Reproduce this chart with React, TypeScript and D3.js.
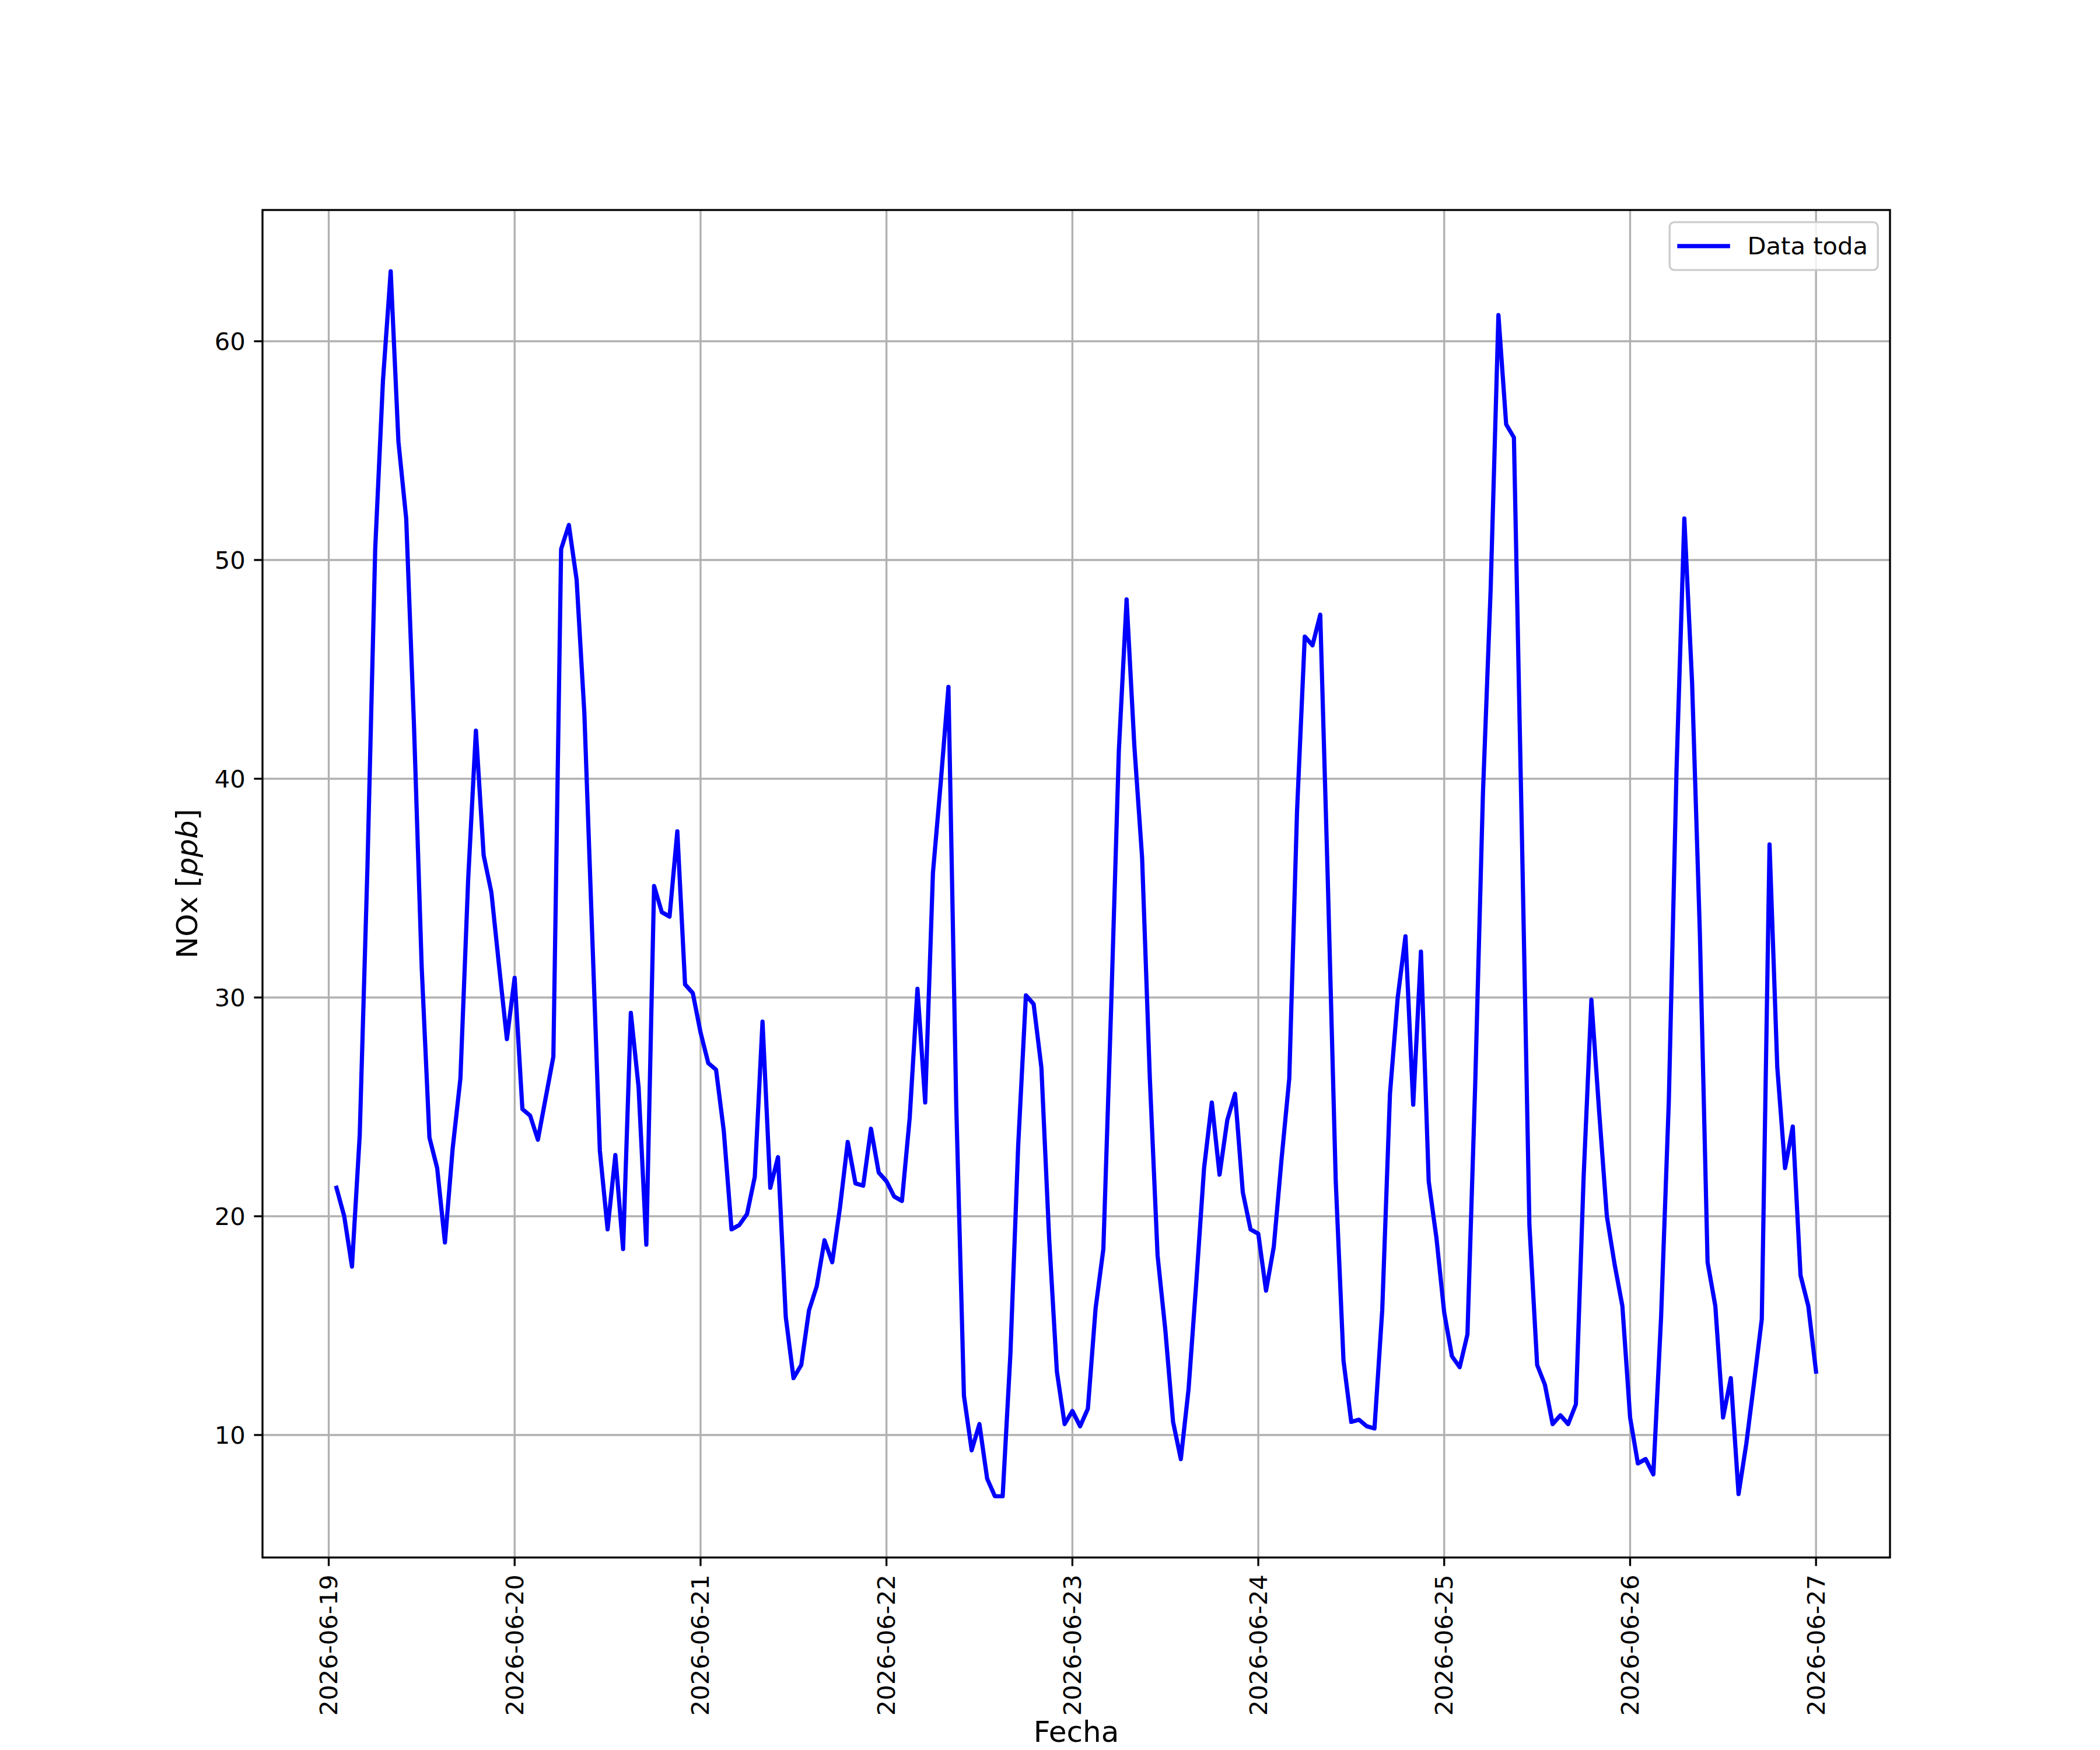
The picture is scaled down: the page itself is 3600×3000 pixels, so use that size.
import React from "react";
import * as d3 from "d3";

// hourly NOx readings, one array per day (01:00 .. 24:00)
const day19 = [21.3, 20.0, 17.7, 23.7, 36.0, 50.5, 58.2, 63.2, 55.4, 51.9, 42.5, 31.4, 23.6, 22.2, 18.8, 23.1, 26.3, 35.4, 42.2, 36.5, 34.8, 31.4, 28.1, 30.9];
const day20 = [24.9, 24.6, 23.5, 25.4, 27.3, 50.5, 51.6, 49.1, 43.0, 33.0, 23.0, 19.4, 22.8, 18.5, 29.3, 25.9, 18.7, 35.1, 33.9, 33.7, 37.6, 30.6, 30.2, 28.4];
const day21 = [27.0, 26.7, 23.9, 19.4, 19.6, 20.1, 21.8, 28.9, 21.3, 22.7, 15.4, 12.6, 13.2, 15.7, 16.8, 18.9, 17.9, 20.4, 23.4, 21.5, 21.4, 24.0, 22.0, 21.6];
const day22 = [20.9, 20.7, 24.5, 30.4, 25.2, 35.7, 39.8, 44.2, 25.2, 11.8, 9.3, 10.5, 8.0, 7.2, 7.2, 13.7, 23.2, 30.1, 29.7, 26.8, 19.0, 12.9, 10.5, 11.1];
const day23 = [10.4, 11.2, 15.8, 18.5, 29.5, 41.3, 48.2, 41.5, 36.4, 26.3, 18.2, 14.8, 10.6, 8.9, 12.1, 17.0, 22.2, 25.2, 21.9, 24.4, 25.6, 21.1, 19.4, 19.2];
const day24 = [16.6, 18.6, 22.6, 26.3, 38.5, 46.5, 46.1, 47.5, 35.0, 21.6, 13.4, 10.6, 10.7, 10.4, 10.3, 15.7, 25.6, 30.0, 32.8, 25.1, 32.1, 21.6, 19.0, 15.6];
const day25 = [13.6, 13.1, 14.6, 26.0, 39.3, 48.7, 61.2, 56.2, 55.6, 38.0, 19.6, 13.2, 12.3, 10.5, 10.9, 10.5, 11.4, 21.8, 29.9, 24.8, 20.0, 17.8, 15.9, 10.8];
const day26 = [8.7, 8.9, 8.2, 15.4, 25.3, 40.5, 51.9, 44.4, 33.0, 17.9, 15.9, 10.8, 12.6, 7.3, 9.6, 12.4, 15.3, 37.0, 26.8, 22.2, 24.1, 17.3, 15.9, 12.9];

const yTicks = [10, 20, 30, 40, 50, 60];
const seriesName = "Data toda";

const nox = [...day19, ...day20, ...day21, ...day22, ...day23, ...day24, ...day25, ...day26];
const start = new Date(Date.UTC(2026, 5, 19, 1));
const data = nox.map((v, i) => ({ t: d3.utcHour.offset(start, i), v }));

const W = 3600;
const H = 3000;
const L = 450, R = 3240, T = 360, B = 2670;
const FS = 41.67; // 10pt @ 300dpi
const LFS = 50; // 12pt axis labels
const FONT = "DejaVu Sans";

export default function App() {
  const [t0, t1] = d3.extent(data, (d) => d.t) as [Date, Date];
  const span = +t1 - +t0;
  const x = d3
    .scaleUtc()
    .domain([new Date(+t0 - span * 0.05), new Date(+t1 + span * 0.05)])
    .range([L, R]);
  const [v0, v1] = d3.extent(data, (d) => d.v) as [number, number];
  const pad = (v1 - v0) * 0.05;
  const y = d3.scaleLinear().domain([v0 - pad, v1 + pad]).range([B, T]);

  const xTicks = x.ticks(d3.utcDay.every(1)!);
  const fmt = d3.utcFormat("%Y-%m-%d");
  const line = d3
    .line<{ t: Date; v: number }>()
    .x((d) => x(d.t))
    .y((d) => y(d.v));

  const tickLen = 14.6;
  const tickPad = 14.6;
  const lw = 3.33;
  const seriesW = 7.2;

  // legend box
  const legW = 357, legH = 82;
  const legX = R - 20.8 - legW;
  const legY = T + 20.8;

  return (
    <svg
      width={W}
      height={H}
      style={{ position: "absolute", left: 0, top: 0, background: "#fff" }}
      fontFamily={FONT}
    >
      <rect x={0} y={0} width={W} height={H} fill="#fff" />
      {/* grid */}
      {xTicks.map((t) => (
        <line key={"gx" + +t} x1={x(t)} x2={x(t)} y1={T} y2={B} stroke="#b0b0b0" strokeWidth={lw} />
      ))}
      {yTicks.map((v) => (
        <line key={"gy" + v} x1={L} x2={R} y1={y(v)} y2={y(v)} stroke="#b0b0b0" strokeWidth={lw} />
      ))}
      {/* series */}
      <path
        d={line(data)!}
        fill="none"
        stroke="#0000ff"
        strokeWidth={seriesW}
        strokeLinejoin="round"
        strokeLinecap="square"
      />
      {/* spines */}
      <rect x={L} y={T} width={R - L} height={B - T} fill="none" stroke="#000" strokeWidth={lw} />
      {/* x ticks */}
      {xTicks.map((t) => (
        <g key={"tx" + +t}>
          <line x1={x(t)} x2={x(t)} y1={B} y2={B + tickLen} stroke="#000" strokeWidth={lw} />
          <text
            transform={`translate(${x(t)},${B + tickLen + tickPad}) rotate(-90)`}
            textAnchor="end"
            dominantBaseline="central"
            fontSize={FS}
          >
            {fmt(t)}
          </text>
        </g>
      ))}
      {/* y ticks */}
      {yTicks.map((v) => (
        <g key={"ty" + v}>
          <line x1={L - tickLen} x2={L} y1={y(v)} y2={y(v)} stroke="#000" strokeWidth={lw} />
          <text
            x={L - tickLen - tickPad}
            y={y(v)}
            textAnchor="end"
            dominantBaseline="central"
            fontSize={FS}
          >
            {v}
          </text>
        </g>
      ))}
      {/* axis labels */}
      <text x={(L + R) / 2} y={2986} textAnchor="middle" fontSize={LFS}>
        Fecha
      </text>
      <text
        transform={`translate(338,${(T + B) / 2}) rotate(-90)`}
        textAnchor="middle"
        fontSize={LFS}
      >
        NOx [<tspan fontStyle="italic">ppb</tspan>]
      </text>
      {/* legend */}
      <rect
        x={legX}
        y={legY}
        width={legW}
        height={legH}
        rx={8}
        fill="#fff"
        fillOpacity={0.8}
        stroke="#cccccc"
        strokeWidth={lw}
      />
      <line
        x1={legX + 16.7}
        x2={legX + 16.7 + 83.3}
        y1={legY + legH / 2}
        y2={legY + legH / 2}
        stroke="#0000ff"
        strokeWidth={seriesW}
        strokeLinecap="square"
      />
      <text x={legX + 16.7 + 83.3 + 33.3} y={legY + legH / 2} dominantBaseline="central" fontSize={FS}>
        {seriesName}
      </text>
    </svg>
  );
}
